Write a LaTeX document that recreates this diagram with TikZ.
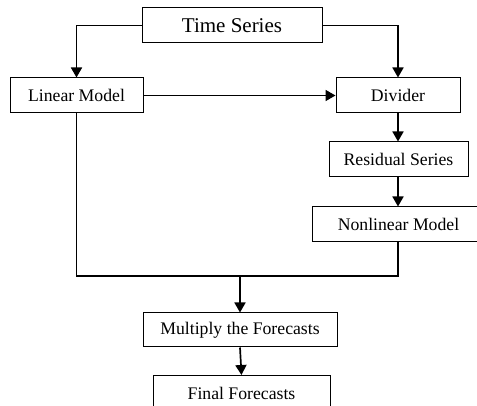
\documentclass[tikz,border=0pt]{standalone}
\usepackage{fontspec}
\setmainfont{Liberation Serif}
\usetikzlibrary{arrows.meta}
\begin{document}
\begin{tikzpicture}[x=1pt,y=-1pt,
  lbl/.style={font=\fontsize{17.7}{20}\selectfont},
  box/.style={draw, line width=1pt, inner sep=0pt, lbl},
  conn/.style={line width=1.7pt},
  arr/.style={conn, -{Triangle[length=10pt,width=11pt]}}]
\useasboundingbox (0,0) rectangle (477,406);
\clip (0,0) rectangle (477,406);
\node[box, minimum width=180pt, minimum height=35pt, font=\fontsize{21}{24}\selectfont] (ts) at (232,25.5) {Time Series};
\node[box, minimum width=133pt, minimum height=35pt] (lm) at (76.5,95.5) {Linear Model};
\node[box, minimum width=124pt, minimum height=35pt] (dv) at (398,95.5) {Divider};
\node[box, minimum width=139pt, minimum height=35pt] (rs) at (398.5,159.5) {Residual Series};
\node[box, minimum width=180pt, minimum height=35pt] (nm) at (402,224.5) {};
\node[lbl] (nmt) at (398.5,224.5) {Nonlinear Model};
\node[box, minimum width=194pt, minimum height=34pt] (mf) at (240,330) {Multiply the Forecasts};
\node[box, minimum width=177pt, minimum height=44pt, anchor=north] (ff) at (241.5,375) {};
\node[lbl] (fft) at (241.5,393) {Final Forecasts};
\coordinate (j) at (240,276);
\draw[arr] (ts.west) -| (lm.north);
\draw[arr] (ts.east) -| (dv.north);
\draw[arr] (lm.east) -- (dv.west);
\draw[arr] (dv.south) -- (rs.north -| dv.south);
\draw[arr] (rs.south -| dv.south) -- (nm.north -| dv.south);
\draw[conn] (lm.south) |- (j) -| (nm.south -| dv.south);
\draw[arr] (j) -- (mf.north -| j);
\draw[arr] (mf.south) -- (ff.north);
\end{tikzpicture}
\end{document}
